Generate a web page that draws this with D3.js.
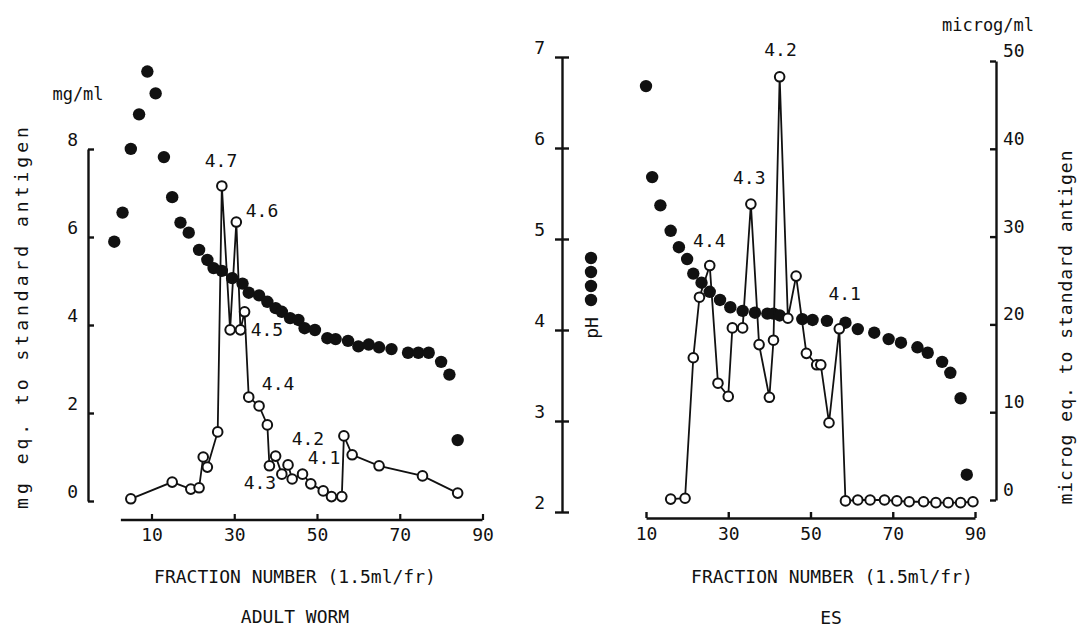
<!DOCTYPE html>
<html><head><meta charset="utf-8">
<script src="https://cdn.jsdelivr.net/npm/d3@7"></script>
<style>
body{margin:0;background:#fff}
text{font-family:"DejaVu Sans Mono",monospace;fill:#111}
</style>
</head><body>
<svg id="c" width="1079" height="627"></svg>
<script>
// ---------- data ----------
const xTicks = [10, 30, 50, 70, 90];
const mgTicks = [0, 2, 4, 6, 8];
const pHTicks = [2, 3, 4, 5, 6, 7];
const microgTicks = [0, 10, 20, 30, 40, 50];

// ADULT WORM – pH (filled)
const awPhFraction = [1,3,5,7,9,11,13,15,17,19,21.5,23.5,25,27,29.5,32,33.5,36,38,40,41.5,43.5,45.5,47,49.5,52.5,54.5,57.5,60,62.5,65,68,72,74.5,77,80,82,84];
const awPh = [4.97,5.29,5.99,6.37,6.84,6.60,5.90,5.46,5.18,5.07,4.88,4.77,4.68,4.65,4.57,4.51,4.41,4.38,4.31,4.24,4.20,4.13,4.11,4.02,4.00,3.91,3.90,3.88,3.82,3.84,3.81,3.79,3.75,3.75,3.75,3.65,3.51,2.79];
// ADULT WORM – antigen mg/ml (open)
const awAgFraction = [5,15,19.5,21.5,22.5,23.5,26,27,29,30.5,31.5,32.5,33.5,36,38,38.5,40,41.5,43,44,46.5,48.5,51.5,53.5,56,56.5,58.5,65,75.5,84];
const awAg = [0.05,0.43,0.27,0.30,1.00,0.77,1.57,7.16,3.89,6.34,3.89,4.30,2.36,2.16,1.73,0.80,1.02,0.61,0.82,0.50,0.61,0.39,0.23,0.10,0.10,1.48,1.05,0.80,0.57,0.18];
// peak pI labels (ADULT WORM), in data coords (fraction, mg/ml)
const awPeakText = ["4.7","4.6","4.5","4.4","4.3","4.2","4.1"];
const awPeakFraction = [26.8,36.7,37.9,40.6,36.2,47.8,51.7];
const awPeakValue = [7.73,6.61,3.89,2.68,0.41,1.41,1.0];

// ES – pH (filled)
const esPhFraction = [10,11.5,13.5,16,18,20,21.5,23.5,25.5,28,30.5,33.5,36.5,39.5,41,42.5,48,50.5,54,58.5,61.5,65.5,69,72,76,78.5,82,84,86.5,88];
const esPh = [6.68,5.68,5.37,5.09,4.91,4.78,4.62,4.52,4.42,4.33,4.25,4.21,4.19,4.18,4.18,4.16,4.12,4.11,4.10,4.08,4.01,3.97,3.90,3.86,3.81,3.75,3.65,3.53,3.25,2.41];
// ES – antigen microg/ml (open)
const esAgFraction = [16,19.5,21.5,23,25.5,27.5,30,31,33.5,35.5,37.5,40,41,42.5,44.5,46.5,49,51.5,52.5,54.5,57,58.5,61.5,64.5,68,71,74,77.5,80.5,83.5,86.5,89.5];
const esAg = [0.1,0.2,16.2,23.1,26.7,13.3,11.8,19.6,19.6,33.7,17.7,11.7,18.2,48.2,20.7,25.5,16.7,15.4,15.4,8.8,19.5,-0.1,0,0,0,-0.1,-0.2,-0.2,-0.3,-0.3,-0.3,-0.2];
const esPeakText = ["4.4","4.3","4.2","4.1"];
const esPeakFraction = [25.4,35.1,42.7,58.3];
const esPeakValue = [29.5,36.7,51.3,23.5];

// ---------- scales ----------
const svg = d3.select("#c");
const xL = d3.scaleLinear([10, 90], [151.5, 482.5]);
const xR = d3.scaleLinear([10, 90], [646, 975]);
const yMg = d3.scaleLinear([0, 8], [501, 149]);
const yPH = d3.scaleLinear([2, 7], [512, 57]);
const yMicro = d3.scaleLinear([0, 50], [500, 61]);

const FS = 18;
const ink = "#111";
const fmt = d3.format("d");

function styleAxis(g, w) {
  g.selectAll("path.domain").attr("stroke", ink).attr("stroke-width", w);
  g.selectAll(".tick line").attr("stroke", ink).attr("stroke-width", w);
  g.selectAll("text").attr("font-size", FS).attr("font-family", "DejaVu Sans Mono").attr("fill", ink);
  g.attr("font-family", null);
}

// ---------- left panel axes ----------
const gxL = svg.append("g").attr("transform", "translate(0,520)")
  .call(d3.axisBottom(xL).tickValues(xTicks).tickFormat(fmt).tickSizeInner(-6).tickSizeOuter(0).tickPadding(8));
gxL.select("path.domain").remove();
svg.append("line").attr("x1", xL(2.6)).attr("x2", xL(90)).attr("y1", 520).attr("y2", 520)
  .attr("stroke", ink).attr("stroke-width", 2.4);
styleAxis(gxL, 2.2);

const gyL = svg.append("g").attr("transform", "translate(88,0)")
  .call(d3.axisLeft(yMg).tickValues(mgTicks).tickFormat(fmt).tickSizeInner(-6).tickSizeOuter(0).tickPadding(10));
styleAxis(gyL, 2.4);
gyL.selectAll("text").attr("dy", "-0.2em");

// ---------- pH axis (shared, middle) ----------
const gpH = svg.append("g").attr("transform", "translate(562,0)")
  .call(d3.axisLeft(yPH).tickValues(pHTicks).tickFormat(fmt).tickSizeInner(7).tickSizeOuter(0).tickPadding(10));
gpH.selectAll(".tick").append("line").attr("x1", 0).attr("x2", 7);
styleAxis(gpH, 2.4);
gpH.selectAll("text").attr("dy", "-0.22em");

// ---------- right panel axes ----------
const gxR = svg.append("g").attr("transform", "translate(0,518)")
  .call(d3.axisBottom(xR).tickValues(xTicks).tickFormat(fmt).tickSizeInner(-6).tickSizeOuter(0).tickPadding(9));
styleAxis(gxR, 2.4);

const gyR = svg.append("g").attr("transform", "translate(996,0)")
  .call(d3.axisRight(yMicro).tickValues(microgTicks).tickFormat(fmt).tickSizeInner(-6).tickSizeOuter(0).tickPadding(7));
styleAxis(gyR, 2.4);
gyR.selectAll("text").attr("dy", "-0.25em");

// ---------- marks ----------
const line = d3.line();
function drawFilled(fr, vals, x, y) {
  svg.append("g").selectAll("circle").data(fr).join("circle")
    .attr("cx", d => x(d)).attr("cy", (d, i) => y(vals[i])).attr("r", 6.2).attr("fill", ink);
}
function drawOpen(fr, vals, x, y) {
  const pts = fr.map((d, i) => [x(d), y(vals[i])]);
  svg.append("path").attr("d", line(pts)).attr("fill", "none").attr("stroke", ink).attr("stroke-width", 1.8);
  svg.append("g").selectAll("circle").data(pts).join("circle")
    .attr("cx", d => d[0]).attr("cy", d => d[1]).attr("r", 4.8)
    .attr("fill", "#fff").attr("stroke", ink).attr("stroke-width", 2);
}
function drawPeaks(txt, fr, vals, x, y) {
  svg.append("g").selectAll("text").data(txt).join("text")
    .attr("x", (d, i) => x(fr[i])).attr("y", (d, i) => y(vals[i]))
    .attr("text-anchor", "middle").attr("dominant-baseline", "central")
    .attr("font-size", FS).text(d => d);
}

drawFilled(awPhFraction, awPh, xL, yPH);
drawOpen(awAgFraction, awAg, xL, yMg);
drawPeaks(awPeakText, awPeakFraction, awPeakValue, xL, yMg);

drawFilled(esPhFraction, esPh, xR, yPH);
drawOpen(esAgFraction, esAg, xR, yMicro);
drawPeaks(esPeakText, esPeakFraction, esPeakValue, xR, yMicro);

// ---------- text ----------
function txt(x, y, s, opts = {}) {
  const t = svg.append("text").attr("x", x).attr("y", y).attr("font-size", opts.fs || FS)
    .attr("text-anchor", opts.anchor || "middle").text(s);
  if (opts.rot) t.attr("transform", `rotate(-90,${x},${y})`);
  if (opts.ls) t.attr("letter-spacing", opts.ls);
  return t;
}
txt(78, 100, "mg/ml", {fs: 17});
txt(988, 31, "microg/ml", {fs: 17});
txt(295, 583, "FRACTION NUMBER (1.5ml/fr)");
txt(832, 583, "FRACTION NUMBER (1.5ml/fr)");
txt(295, 623, "ADULT WORM");
txt(831, 624, "ES");
txt(28, 316, "mg eq. to standard antigen", {rot: true, ls: 4});
txt(1072, 327, "microg eq. to standard antigen", {rot: true, ls: 1});

// pH legend
txt(598, 328, "pH", {rot: true});
const legendY = [258, 272, 286, 300];
svg.append("g").selectAll("circle").data(legendY).join("circle")
  .attr("cx", 591).attr("cy", d => d).attr("r", 6.2).attr("fill", ink);
</script>
</body></html>
